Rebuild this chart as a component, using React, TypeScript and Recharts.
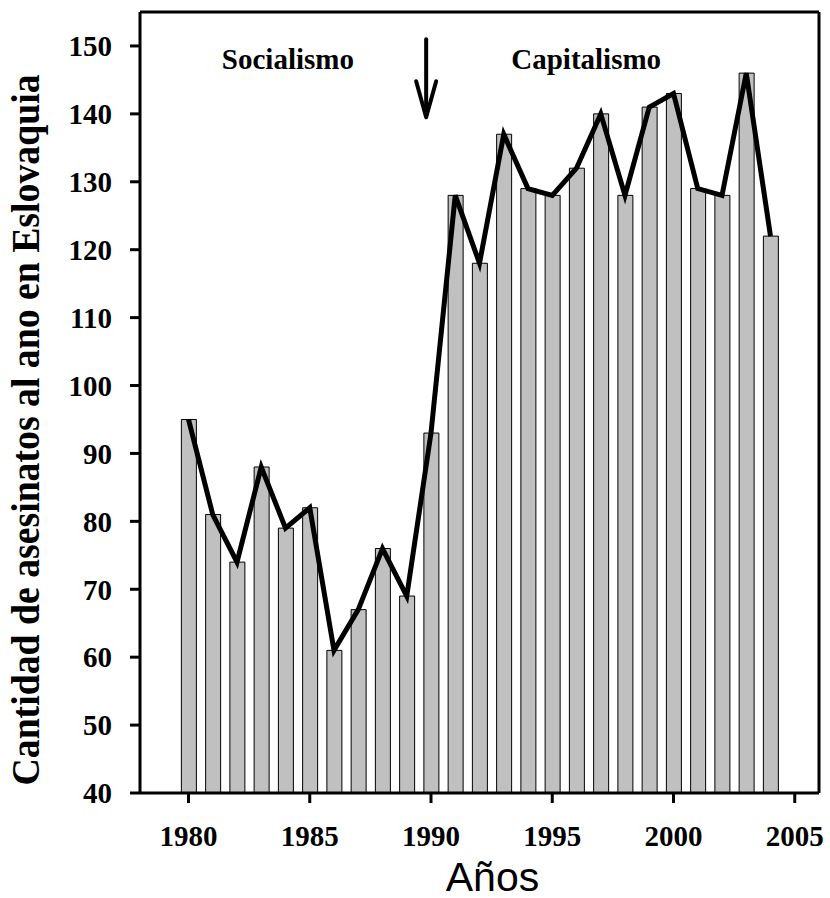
import React from 'react';
import { ComposedChart, Bar, Line, XAxis, YAxis, ReferenceLine, ReferenceDot, Label } from 'recharts';

const years = [1980, 1981, 1982, 1983, 1984, 1985, 1986, 1987, 1988, 1989, 1990, 1991, 1992, 1993, 1994, 1995, 1996, 1997, 1998, 1999, 2000, 2001, 2002, 2003, 2004];
const murders = [95, 81, 74, 88, 79, 82, 61, 67, 76, 69, 93, 128, 118, 137, 129, 128, 132, 140, 128, 141, 143, 129, 128, 146, 122];
const xTicks = [1980, 1985, 1990, 1995, 2000, 2005];
const yTicks = [40, 50, 60, 70, 80, 90, 100, 110, 120, 130, 140, 150];
const xDomain = [1978, 2006];
const yDomain = [40, 155];
const periodLabels = [
  { text: 'Socialismo', year: 1984.1, value: 148.1 },
  { text: 'Capitalismo', year: 1996.4, value: 148.1 },
];
const arrow = { year: 1989.8, from: 151, to: 139.5 };

const data = years.map((y, i) => ({ year: y, value: murders[i] }));

const SERIF = '"Liberation Serif", "Times New Roman", serif';
const SANS = '"Liberation Sans", Arial, sans-serif';

const ArrowShape = (props: any) => {
  const { x1, y1, x2, y2 } = props;
  const tipY = Math.max(y1, y2);
  const topY = Math.min(y1, y2);
  const x = x1;
  return (
    <g>
      <line x1={x} y1={topY} x2={x} y2={tipY - 2} stroke="#000" strokeWidth={4} strokeLinecap="round" />
      <path d={`M${x - 10},${tipY - 36} L${x},${tipY} L${x + 10},${tipY - 36}`} fill="none" stroke="#000" strokeWidth={4} strokeLinecap="round" strokeLinejoin="round" />
    </g>
  );
};

const makeTextShape = (text: string) => (props: any) => {
  const { cx, cy } = props;
  return (
    <text x={cx} y={cy} textAnchor="middle" dominantBaseline="central" fontFamily={SERIF} fontWeight="bold" fontSize={29} fill="#000">
      {text}
    </text>
  );
};

export default function App() {
  return (
    <div style={{ position: 'absolute', left: 0, top: 0, background: '#fff' }}>
      <ComposedChart width={830} height={898} data={data} margin={{ top: 12, right: 11, left: 0, bottom: 0 }}>
        <XAxis
          dataKey="year"
          type="number"
          domain={xDomain}
          ticks={xTicks}
          allowDataOverflow
          height={105}
          axisLine={{ stroke: '#000', strokeWidth: 3 }}
          tickLine={{ stroke: '#000', strokeWidth: 3 }}
          tickSize={10}
          tickMargin={22}
          tick={{ fill: '#000', fontFamily: SERIF, fontWeight: 'bold', fontSize: 29 }}
        >
          <Label
            content={(p: any) => {
              const vb = p.viewBox;
              return (
                <text x={vb.x + vb.width / 2 + 13} y={vb.y + 98} textAnchor="middle" fontFamily={SANS} fontSize={41} fill="#000">
                  Años
                </text>
              );
            }}
          />
        </XAxis>
        <YAxis
          type="number"
          domain={yDomain}
          ticks={yTicks}
          allowDataOverflow
          width={140}
          axisLine={{ stroke: '#000', strokeWidth: 3 }}
          tickLine={{ stroke: '#000', strokeWidth: 3 }}
          tickSize={10}
          tickMargin={18}
          tick={{ fill: '#000', fontFamily: SERIF, fontWeight: 'bold', fontSize: 29 }}
        >
          <Label
            content={(p: any) => {
              const vb = p.viewBox;
              const cy = vb.y + 418;
              const cx = 38.5;
              return (
                <text
                  x={cx}
                  y={cy}
                  transform={`rotate(-90 ${cx} ${cy})`}
                  textAnchor="middle"
                  fontFamily={SERIF}
                  fontWeight="bold"
                  fontSize={40}
                  textLength={711}
                  lengthAdjust="spacingAndGlyphs"
                  fill="#000"
                >
                  Cantidad de asesinatos al ano en Eslovaquia
                </text>
              );
            }}
          />
        </YAxis>
        <ReferenceLine y={yDomain[1]} stroke="#000" strokeWidth={3} />
        <ReferenceLine x={xDomain[1]} stroke="#000" strokeWidth={3} />
        <Bar dataKey="value" barSize={15} fill="#c0c0c0" stroke="#000" strokeWidth={1} isAnimationActive={false} />
        <Line dataKey="value" type="linear" stroke="#000" strokeWidth={5} dot={false} activeDot={false} isAnimationActive={false} />
        <ReferenceLine
          segment={[{ x: arrow.year, y: arrow.from }, { x: arrow.year, y: arrow.to }]}
          shape={ArrowShape}
        />
        {periodLabels.map((l) => (
          <ReferenceDot key={l.text} x={l.year} y={l.value} r={0} shape={makeTextShape(l.text)} />
        ))}
      </ComposedChart>
    </div>
  );
}
